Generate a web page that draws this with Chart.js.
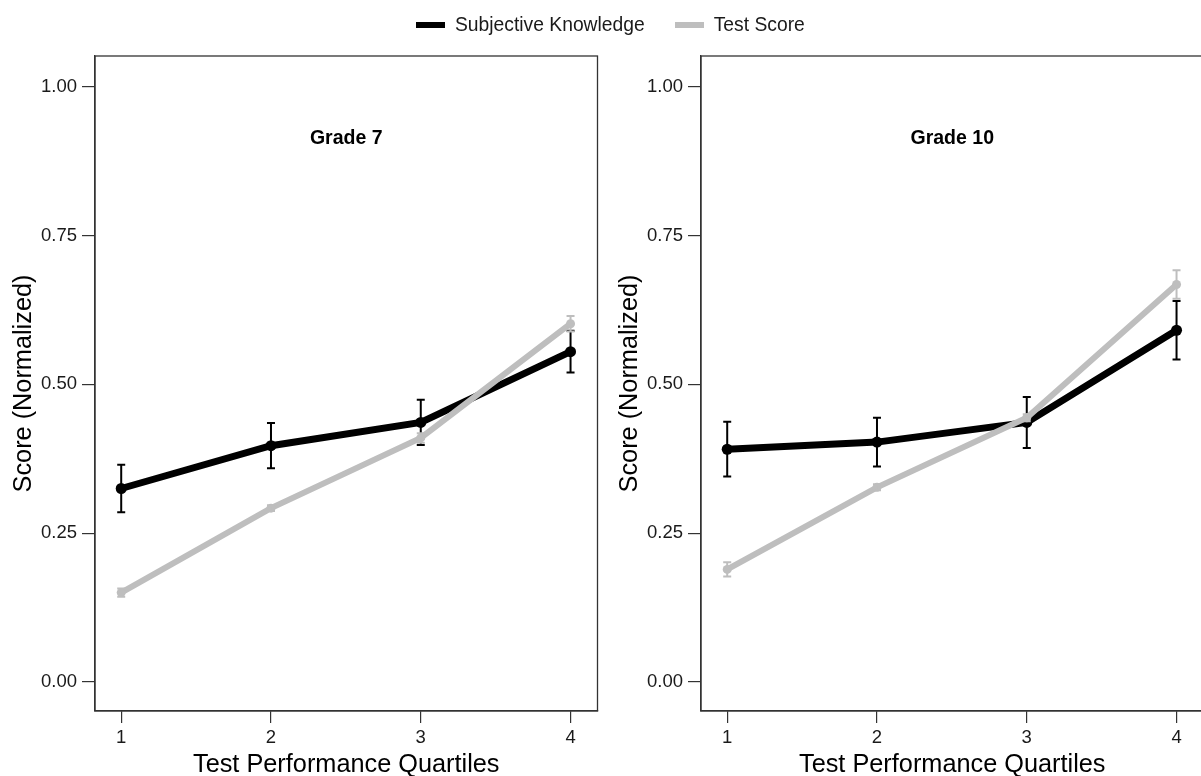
<!DOCTYPE html>
<html><head><meta charset="utf-8">
<script src="https://cdn.jsdelivr.net/npm/chart.js@4.4.1/dist/chart.umd.min.js"></script>
<style>
html,body{margin:0;padding:0;background:#fff;overflow:hidden;width:1201px;height:776px;}
#c1{position:absolute;left:0;top:0;}
#c2{position:absolute;left:606px;top:0;}
#legend{position:absolute;top:13px;left:416px;height:24px;font-family:"Liberation Sans",Arial,sans-serif;font-size:19.3px;color:#1a1a1a;display:flex;align-items:center;white-space:nowrap;}
.sw{display:inline-block;width:29px;height:6px;margin-right:10px;}
.item{display:flex;align-items:center;margin-right:30px;}
</style></head>
<body>
<canvas id="c1" width="603" height="780"></canvas>
<canvas id="c2" width="603" height="780"></canvas>
<div id="legend"></div>
<script>
const quartiles = [1, 2, 3, 4];
const yTicks = [0, 0.25, 0.5, 0.75, 1];
const yTickLabels = ['0.00', '0.25', '0.50', '0.75', '1.00'];
const panelTitles = ['Grade 7', 'Grade 10'];
const seriesNames = ['Subjective Knowledge', 'Test Score'];
const seriesColors = ['#000000', '#bebebe'];
const xTitle = 'Test Performance Quartiles';
const yTitle = 'Score (Normalized)';

const g7Subjective = [0.325, 0.397, 0.436, 0.555];
const g7SubjectiveErr = [0.040, 0.038, 0.038, 0.035];
const g7Test = [0.150, 0.292, 0.410, 0.602];
const g7TestErr = [0.007, 0.005, 0.008, 0.013];

const g10Subjective = [0.391, 0.403, 0.436, 0.591];
const g10SubjectiveErr = [0.046, 0.041, 0.043, 0.049];
const g10Test = [0.189, 0.327, 0.444, 0.668];
const g10TestErr = [0.012, 0.005, 0.006, 0.024];

Chart.defaults.font.family = '"Liberation Sans", Arial, sans-serif';
Chart.defaults.color = '#1a1a1a';

// HTML legend
const leg = document.getElementById('legend');
seriesNames.forEach((n, i) => {
  const it = document.createElement('span'); it.className = 'item';
  const sw = document.createElement('span'); sw.className = 'sw'; sw.style.background = seriesColors[i];
  const tx = document.createElement('span'); tx.textContent = n;
  it.appendChild(sw); it.appendChild(tx); leg.appendChild(it);
});

const errorBars = {
  id: 'errorBars',
  afterDatasetDraw(chart, args) {
    const ds = chart.data.datasets[args.index];
    if (!ds.err) return;
    const ctx = chart.ctx, xs = chart.scales.x, ys = chart.scales.y;
    ctx.save();
    ctx.strokeStyle = ds.borderColor;
    ctx.lineWidth = 2;
    ds.data.forEach((p, i) => {
      const x = xs.getPixelForValue(p.x);
      const y1 = ys.getPixelForValue(p.y + ds.err[i]);
      const y2 = ys.getPixelForValue(p.y - ds.err[i]);
      ctx.beginPath();
      ctx.moveTo(x, y1); ctx.lineTo(x, y2);
      ctx.moveTo(x - 4, y1); ctx.lineTo(x + 4, y1);
      ctx.moveTo(x - 4, y2); ctx.lineTo(x + 4, y2);
      ctx.stroke();
    });
    ctx.restore();
  }
};

const frame = {
  id: 'frame',
  afterDraw(chart, args, opts) {
    const a = chart.chartArea, ctx = chart.ctx;
    ctx.save();
    ctx.strokeStyle = '#333';
    ctx.lineWidth = 1.3;
    ctx.strokeRect(a.left, a.top, a.right - a.left, a.bottom - a.top);
    ctx.fillStyle = '#000';
    ctx.font = 'bold 19.5px "Liberation Sans", Arial, sans-serif';
    ctx.textAlign = 'center';
    ctx.textBaseline = 'middle';
    ctx.fillText(opts.text, (a.left + a.right) / 2, a.top + 83);
    ctx.restore();
  }
};

function makeChart(id, title, subj, subjErr, test, testErr) {
  return new Chart(document.getElementById(id), {
    type: 'line',
    data: {
      datasets: [
        { label: seriesNames[0], data: quartiles.map((q, i) => ({ x: q, y: subj[i] })), err: subjErr,
          borderColor: seriesColors[0], backgroundColor: seriesColors[0], borderWidth: 7,
          pointRadius: 5.5, pointBorderWidth: 0, order: 1 },
        { label: seriesNames[1], data: quartiles.map((q, i) => ({ x: q, y: test[i] })), err: testErr,
          borderColor: seriesColors[1], backgroundColor: seriesColors[1], borderWidth: 6,
          pointRadius: 4.5, pointBorderWidth: 0, order: 0 }
      ]
    },
    options: {
      responsive: false,
      animation: false,
      devicePixelRatio: 1,
      layout: { padding: { top: 56, right: 0, left: 0, bottom: 0 } },
      plugins: { legend: { display: false }, tooltip: { enabled: false }, frame: { text: title } },
      scales: {
        x: {
          type: 'linear', min: 0.825, max: 4.18,
          afterBuildTicks: s => { s.ticks = quartiles.map(v => ({ value: v })); },
          afterFit: s => { s.height = 69; },
          ticks: { callback: v => String(v), font: { size: 18.5 }, color: '#1a1a1a', padding: 4, maxRotation: 0, autoSkip: false },
          grid: { drawOnChartArea: false, tickLength: 12, color: '#333', lineWidth: 1.2 },
          border: { color: '#333', width: 1.3 },
          title: { display: true, text: xTitle, font: { size: 25.3 }, color: '#000', padding: { top: 0, bottom: 0 } }
        },
        y: {
          type: 'linear', min: -0.049, max: 1.052,
          afterBuildTicks: s => { s.ticks = yTicks.map(v => ({ value: v })); },
          afterFit: s => { s.width = 95; },
          ticks: { callback: (v, i) => yTickLabels[i], font: { size: 18.5 }, color: '#1a1a1a', padding: 5, autoSkip: false },
          grid: { drawOnChartArea: false, tickLength: 13, color: '#333', lineWidth: 1.2 },
          border: { color: '#333', width: 1.3 },
          title: { display: true, text: yTitle, font: { size: 25.3 }, color: '#000', padding: { top: 9, bottom: 0 } }
        }
      }
    },
    plugins: [errorBars, frame]
  });
}

makeChart('c1', panelTitles[0], g7Subjective, g7SubjectiveErr, g7Test, g7TestErr);
makeChart('c2', panelTitles[1], g10Subjective, g10SubjectiveErr, g10Test, g10TestErr);
</script>
</body></html>
